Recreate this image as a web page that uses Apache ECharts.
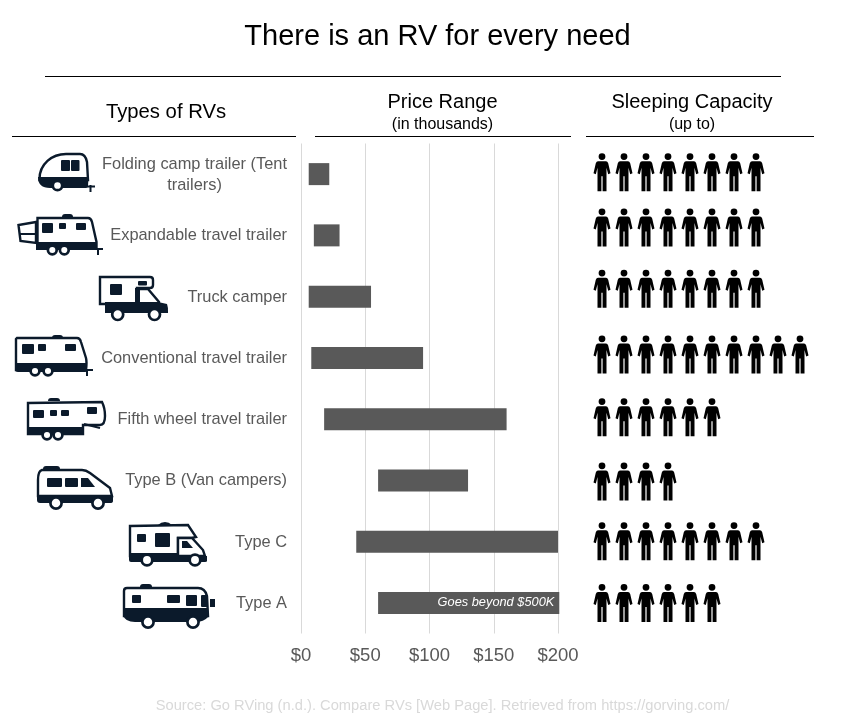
<!DOCTYPE html>
<html>
<head>
<meta charset="utf-8">
<style>html,body{margin:0;padding:0;background:#fff}#chart{width:845px;height:726px}</style>
<script src="https://cdn.jsdelivr.net/npm/echarts@6/dist/echarts.min.js"></script>
</head>
<body>
<div id="chart"></div>
<script>
var rvTypes = ['Folding camp trailer (Tent\ntrailers)', 'Expandable travel trailer', 'Truck camper', 'Conventional travel trailer',
  'Fifth wheel travel trailer', 'Type B (Van campers)', 'Type C', 'Type A'];
var priceLow = [6, 10, 6, 8, 18, 60, 43, 60];
var priceHigh = [22, 30, 54.5, 95, 160, 130, 200, 201];
var sleeps = [8, 8, 8, 10, 6, 4, 8, 6];
var priceTicks = [0, 50, 100, 150, 200];

var FONT = '"Liberation Sans", Arial, sans-serif';
var INK = '#0b1a2b';
var GREY = '#595959';

// person icon, 17 x 38
var PERSON = 'path://M8.5 0a3.4 3.4 0 1 0 .01 0zM4.5 8L12.5 8Q14 8 14.7 10L17 20L14.7 21L13 14.5L13 38L9.1 38L9.1 23L7.9 23L7.9 38L4 38L4 14.5L2.3 21L0 20L2.3 10Q3 8 4.5 8z';
// the people rows do not sit exactly on the bar rows in the original
var peopleNudge = [-2, -8, -8, -3.5, -2, 1, -0.5, 0];

// small helpers for the vehicle drawings
function shell(d) { return { type: 'path', shape: { pathData: d }, style: { fill: '#fff', stroke: INK, lineWidth: 2.4 } }; }
function solid(d) { return { type: 'path', shape: { pathData: d }, style: { fill: INK } }; }
function line(d) { return { type: 'path', shape: { pathData: d }, style: { fill: 'none', stroke: INK, lineWidth: 2 } }; }
function win(x, y, w, h) { return { type: 'rect', shape: { x: x, y: y, width: w, height: h, r: 1 }, style: { fill: INK } }; }
function wheel(x, y, r) { return { type: 'circle', shape: { cx: x, cy: y, r: r }, style: { fill: '#fff', stroke: INK, lineWidth: 2.7 } }; }
function rule(x1, x2, y) { return { type: 'line', shape: { x1: x1, y1: y, x2: x2, y2: y }, style: { stroke: '#000', lineWidth: 1 } }; }

var icons = [
  // folding camp trailer
  shell('M39.5 179C39.5 164 52 154 66 154L80 154C84 154 86 157 87 162L88 180L39.5 180Z'),
  solid('M38 177L88.5 177L88 186Q88 188 85 188L50 188Q38 188 38 177Z'),
  win(61, 160, 9, 11), win(71, 160, 8.5, 11),
  wheel(57.5, 185.5, 4.7),
  line('M87 186.5L95 186.5M90.5 185L90.5 192'),
  // expandable travel trailer
  solid('M62 217Q62 214 65 214L70 214Q73 214 73 217Z'),
  shell('M36 222L18.5 225L20.5 241L36 243Z'), line('M19 234L36 234'),
  shell('M37.5 218L88 218Q91 218 92 222L96.5 242L96.5 248L37.5 248Z'),
  solid('M36 242L97 242L97 250L36 250Z'),
  win(42, 223, 11, 10), win(59, 223, 7, 6), win(76, 223, 10, 7),
  wheel(52.3, 250, 4.4), wheel(64.3, 250, 4.4),
  line('M97 249L103 249M98 249L98 255'),
  // truck camper
  shell('M100 277L150 277Q153 277 153 280L153 285Q153 288 150 288L137 288L137 304L100 304Z'),
  shell('M137 289L148 289L159 302L159 305L137 305Z'),
  solid('M105 302L158 302L167 304Q168.5 308 168 313L105 313Z'),
  win(110, 284, 12, 11), win(138, 281, 9, 4.5),
  solid('M135 288L140 288L140 303L135 303Z'),
  wheel(117.7, 314.5, 5.5), wheel(154.5, 314.5, 5.5),
  // conventional travel trailer
  solid('M52 338Q52 335 55 335L60 335Q63 335 63 338Z'),
  shell('M17 338L77 338Q80 338 81 342L86 358Q87 362 86 370L16 370L16 339Z'),
  solid('M15 363L87 363L87 371Q87 372 85 372L18 372Q15 372 15 369Z'),
  win(22, 344, 12, 10), win(38, 344, 8, 7), win(65, 344, 11, 7),
  wheel(35, 371, 4.4), wheel(48, 371, 4.4),
  line('M86 370L93 370M87 370L87 376'),
  // fifth wheel travel trailer
  solid('M48 401Q48 398 51 398L57 398Q60 398 60 401Z'),
  shell('M28 403L102 402Q105 408 105 416Q105 425 100 425L83 425L83 434L28 434Z'),
  solid('M27 427L83 427L83 435L29 435Q27 435 27 433Z'),
  win(33, 410, 11, 8), win(50, 410, 7, 6), win(61, 410, 8, 6), win(87, 407, 10, 7),
  wheel(47, 435, 4.4), wheel(58, 435, 4.4),
  line('M84 424L100 428'),
  // type B van
  solid('M43 469Q43 466 46 466L57 466Q60 466 60 469Z'),
  shell('M42 470L82 470Q86 470 90 473L110 488L112 496L38 496L38 480Q38 471 42 470Z'),
  solid('M37 495L113 495L113 501Q113 503 110 503L40 503Q37 503 37 500Z'),
  win(47, 478, 15, 9), win(65, 478, 13, 9),
  solid('M81 478L88 478L95 487L81 487Z'),
  wheel(56, 503, 5.6), wheel(98, 503, 5.6),
  // type C
  solid('M158 525Q161 522 165 522Q169 522 172 525Z'),
  shell('M130 526L188 525L196 537L192 538L178 538L178 556L130 556Z'),
  shell('M178 538L192 538L203 550L205 556L178 556Z'),
  solid('M129 553L178 553L178 556L207 556L207 561Q207 562 205 562L131 562Q129 562 129 560Z'),
  win(137, 534, 9, 8), win(155, 533, 15, 14),
  solid('M182 541L187 541L193 548L182 548Z'),
  wheel(147, 560, 5.3), wheel(195, 560, 5.3),
  // type A
  solid('M140 587Q140 584 143 584L149 584Q152 584 152 587Z'),
  shell('M127 588L198 588Q205 588 207 596L208 616L124 616L124 591Q124 588 127 588Z'),
  solid('M123 608L208 608L208 617Q204 622 195 622L135 622Q125 622 123 615Z'),
  win(132, 595, 9, 8), win(167, 595, 13, 8), win(186, 595, 11, 11), win(201, 595, 7, 12),
  solid('M210 599L215 599L215 607L210 607Z'),
  wheel(148, 622, 5.6), wheel(193, 622, 5.6)
];

var chart = echarts.init(document.getElementById('chart'));

function head(text, x, y, size) {
  return { text: text, left: x, top: y, padding: 0, textAlign: 'center', textStyle: { fontFamily: FONT, fontSize: size, fontWeight: 'normal', color: '#000' } };
}

var option = {
  animation: false,
  backgroundColor: '#fff',
  textStyle: { fontFamily: FONT },
  title: [
    head('There is an RV for every need', 437.5, 22.5, 29),
    head('Types of RVs', 166, 102.5, 20.3),
    head('Price Range', 442.5, 92, 20),
    head('(in thousands)', 442.5, 117, 16),
    head('Sleeping Capacity', 692, 92, 20),
    head('(up to)', 692, 117, 16),
    { text: 'Source: Go RVing (n.d.). Compare RVs [Web Page]. Retrieved from https://gorving.com/', left: 442.5, top: 698, padding: 0, textAlign: 'center',
      textStyle: { fontFamily: FONT, fontSize: 14.7, fontWeight: 'normal', color: '#d9d9d9' } }
  ],
  grid: [
    { left: 301, top: 143.5, width: 257, height: 490 },
    { left: 591, top: 143.5, width: 220, height: 490 }
  ],
  xAxis: [
    { type: 'value', gridIndex: 0, min: 0, max: 200, interval: 50,
      axisLine: { show: false }, axisTick: { show: false },
      splitLine: { lineStyle: { color: '#d9d9d9', width: 1 } },
      axisLabel: { formatter: function (v) { return priceTicks.indexOf(v) >= 0 ? '$' + v : ''; }, fontFamily: FONT, fontSize: 18.5, color: GREY, margin: 12.5 } },
    { type: 'value', gridIndex: 1, min: 0, max: 10, show: false }
  ],
  yAxis: [
    { type: 'category', gridIndex: 0, data: rvTypes, inverse: true,
      axisLine: { show: false }, axisTick: { show: false },
      axisLabel: { margin: 14, fontFamily: FONT, fontSize: 16.4, color: GREY, lineHeight: 21, interval: 0,
        formatter: function (v) { return v.split('\n').map(function (s) { return '{c|' + s + '}'; }).join('\n'); },
        rich: { c: { align: 'center', fontFamily: FONT, fontSize: 16.4, color: GREY, lineHeight: 21, padding: [1, 0, 0, 0] } } } },
    { type: 'category', gridIndex: 1, data: rvTypes, inverse: true, show: false }
  ],
  series: [
    { type: 'bar', stack: 'price', xAxisIndex: 0, yAxisIndex: 0, barWidth: 22, silent: true,
      itemStyle: { color: 'transparent' }, data: priceLow },
    { type: 'bar', stack: 'price', xAxisIndex: 0, yAxisIndex: 0, barWidth: 22, clip: false,
      itemStyle: { color: '#595959' },
      data: priceHigh.map(function (h, i) {
        var d = { value: h - priceLow[i] };
        if (i === 7) {
          d.label = { show: true, position: 'insideRight', distance: 5, formatter: 'Goes beyond $500K',
            fontFamily: FONT, fontStyle: 'italic', fontSize: 12.8, color: '#fff' };
        }
        return d;
      }) },
    { type: 'pictorialBar', xAxisIndex: 1, yAxisIndex: 1, symbol: PERSON, symbolSize: [17, 38],
      symbolRepeat: true, symbolMargin: '2.5!', itemStyle: { color: '#000' },
      data: sleeps.map(function (n, i) { return { value: n, symbolOffset: [0, peopleNudge[i]] }; }) },
    // header rules and vehicle drawings: a path element is only available in a custom series
    { type: 'custom', coordinateSystem: 'none', silent: true, data: [0], clip: false,
      renderItem: function () {
        return { type: 'group', children: [
          rule(45, 781, 76.5), rule(12, 296, 136.5), rule(315, 571, 136.5), rule(586, 814, 136.5)
        ].concat(icons) };
      } }
  ]
};
chart.setOption(option);
</script>
</body>
</html>
